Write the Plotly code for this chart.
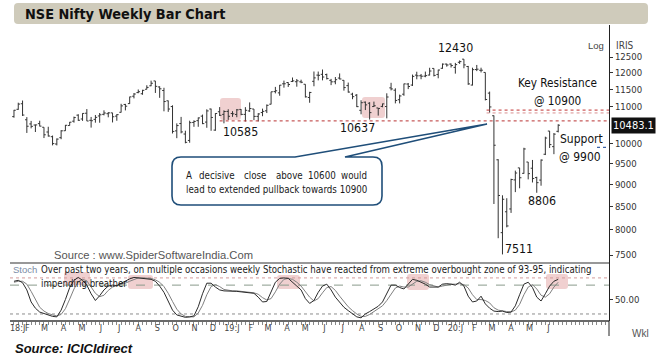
import math
import pandas as pd
import plotly.graph_objects as go

W, H = 657, 363

# ---------------- data ----------------
week_start = "2018-01-15"
opens = [10718,10922,11080,10631,10518,10488,10526,10428,10301,10177,
         9987,10151,10334,10474,10592,10758,10653,10812,10616,10642,
         10736,10781,10799,10822,10732,10838,11060,11084,11297,11404,
         11369,11502,11605,11751,11570,11465,11164,11000,10331,10528,
         10247,10079,10558,10607,10731,10568,10930,10351,10853,10780,
         10863,10804,10777,10919,10780,10876,10930,10724,10831,10880,
         11067,11433,11395,11665,11704,11736,11727,11725,11651,11260,
         11739,11929,11953,11945,11770,11726,11839,11770,11610,11357,
         11327,10894,11124,11095,11000,10960,11004,11000,11543,11474,
         11196,11356,11657,11627,11929,11910,11898,11931,12137,11950,
         12141,12274,12274,12170,12330,12430,12197,11627,12102,12078,
         12012,11387,10742,9588,7945,8385,8446,9103,9390,9259,
         9533,9382,9158,9099,9726,10326,9919,10319]
highs = [10906,11110,11172,10704,10600,10500,10605,10428,10441,10207,
         10132,10350,10490,10572,10719,10784,10812,10929,10709,10763,
         10818,10893,10843,10823,10786,11078,11076,11283,11390,11495,
         11486,11621,11760,11751,11590,11546,11171,11035,10533,10710,
         10335,10606,10616,10695,10774,10922,10941,10815,10985,10893,
         10923,10870,10931,10928,10983,11118,10930,10815,10941,11059,
         11427,11572,11630,11761,11711,11856,11810,11789,11651,11427,
         12041,12039,12103,11975,11814,11871,11981,11774,11702,11399,
         11360,11181,11145,11125,11141,10960,11084,11382,11695,11530,
         11344,11670,11690,11946,12034,11964,12038,12158,12137,12098,
         12293,12287,12293,12311,12389,12430,12216,12160,12246,12160,
         12012,11433,10751,9602,8749,8683,9131,9324,9390,9890,
         9533,9584,9178,9598,10177,10328,10273,10510]
lows = [10688,10908,10736,10276,10398,10301,10450,10141,10180,9952,
        9951,10111,10330,10474,10553,10601,10601,10595,10418,10551,
        10550,10753,10699,10558,10604,10832,10891,11076,11234,11385,
        11340,11499,11593,11393,11250,10866,10850,10262,10138,10265,
        10005,10020,10440,10440,10512,10414,10333,10333,10735,10534,
        10628,10711,10701,10756,10583,10848,10620,10585,10729,10817,
        11061,11380,11311,11549,11570,11718,11578,11683,11259,11108,
        11591,11768,11769,11797,11625,11651,11798,11461,11400,11210,
        10985,10783,10901,10637,10987,10746,10980,10670,11468,11090,
        11090,11310,11506,11600,11802,11803,11864,11919,11888,11832,
        12126,12192,12165,11975,12279,12142,11633,11614,12053,12012,
        11175,10827,8555,7832,7511,8055,8360,8821,8909,9250,
        9116,9043,8806,8968,9706,9885,9728,10290]
closes = [10895,11070,10761,10455,10452,10491,10458,10227,10195,9998,
          10114,10332,10481,10565,10692,10618,10807,10597,10605,10697,
          10768,10818,10822,10714,10772,11019,11010,11278,11361,11429,
          11470,11557,11681,11589,11515,11143,10930,10316,10473,10303,
          10030,10553,10585,10682,10526,10877,10694,10805,10754,10860,
          10727,10795,10907,10780,10894,10944,10724,10792,10864,11035,
          11427,11457,11624,11666,11643,11753,11755,11712,11279,11407,
          11844,11923,11871,11823,11724,11789,11811,11552,11419,11284,
          10997,11110,11048,10829,11023,10946,11076,11274,11512,11174,
          11305,11662,11584,11890,11908,11895,11914,12056,11921,12087,
          12272,12245,12227,12257,12352,12248,11662,12098,12113,12081,
          11202,10989,9955,8745,8660,8084,9112,9267,9154,9860,
          9252,9137,9039,9580,10142,9972,10244,10483]
stoch_k = [88,90,85,70,45,32,24,21,18,15,
           14,28,50,75,90,96,90,80,62,48,
           58,70,78,80,79,84,88,93,96,95,
           95,94,92,88,78,65,45,28,18,15,
           13,14,16,35,62,84,84,76,70,68,
           68,68,67,66,65,65,63,55,45,46,
           66,86,94,95,94,87,78,70,52,42,
           48,65,78,82,70,55,45,34,27,20,
           14,12,20,25,30,36,45,62,80,80,
           75,72,82,92,90,86,82,76,76,76,
           82,83,82,80,86,78,57,45,47,57,
           41,32,26,25,26,23,24,37,60,82,
           86,75,55,47,62,78,88,92]
stoch_d = [86,88,88,82,67,49,34,26,21,18,
           16,19,31,51,72,87,92,89,77,63,
           56,59,69,76,79,81,84,88,92,95,
           95,95,94,91,86,77,63,46,30,20,
           15,14,14,22,38,60,77,81,77,71,
           69,68,68,67,66,65,64,61,54,49,
           52,66,82,92,94,92,86,78,67,55,
           47,52,64,75,77,69,57,45,35,27,
           20,15,15,19,25,30,37,48,62,74,
           78,76,76,82,88,89,86,81,78,76,
           78,80,82,82,83,81,74,60,50,50,
           48,43,33,28,26,25,24,28,40,60,
           76,81,72,59,55,62,76,86]
price_ticks = [7500, 8000, 8500, 9000, 9500, 10000, 11000, 11500, 12000, 12500]
month_labels = ["18:J","F","M","A","M","J","J","A","S","O","N","D",
                "19:J","F","M","A","M","J","J","A","S","O","N","D",
                "20:J","F","M","A","M","J"]
last_price = 10483.1

dates = pd.date_range(week_start, periods=len(opens), freq="7D")
month_pos = list(pd.date_range("2018-01-01", "2020-06-01", freq="MS") + pd.Timedelta(days=5))
month_pos[0] = pd.Timestamp("2018-01-21")

# ---------------- layout geometry (pixels) ----------------
PL, PR = 10, 609           # plot left/right
MT, MB = 25, 263           # main pane top/bottom
SB = 321                   # stoch pane bottom
X0, X1 = pd.Timestamp("2018-01-08 12:00"), pd.Timestamp("2020-09-13")
YLO, YHI = 3.8661, 4.13276
S_LO, S_HI = 5.4, 126

def fx(x): return x / W
def fy(y): return 1 - y / H

def price_px(p):
    return MB - (math.log10(p) - YLO) / (YHI - YLO) * (MB - MT)

def date_px(d):
    d = pd.Timestamp(d)
    return PL + (d - X0) / (X1 - X0) * (PR - PL)

NARROW = "'DejaVu Sans Condensed', 'DejaVu Sans', sans-serif"
SANS = "'Liberation Sans', Arial, sans-serif"

fig = go.Figure()
fig.add_trace(go.Ohlc(
    x=dates, open=opens, high=highs, low=lows, close=closes,
    increasing=dict(line=dict(color="#333333", width=1)),
    decreasing=dict(line=dict(color="#333333", width=1)),
    tickwidth=0.42, xaxis="x", yaxis="y", showlegend=False, hoverinfo="skip"))
fig.add_trace(go.Scatter(x=dates, y=stoch_d, mode="lines",
                         line=dict(color="#808080", width=1),
                         xaxis="x", yaxis="y2", showlegend=False, hoverinfo="skip"))
fig.add_trace(go.Scatter(x=dates, y=stoch_k, mode="lines",
                         line=dict(color="#2b2b2b", width=1),
                         xaxis="x", yaxis="y2", showlegend=False, hoverinfo="skip"))

shapes = []

def path_from(pts):
    s = ""
    for p in pts:
        coords = p[1:]
        s += p[0] + " " + " ".join(
            f"{fx(coords[i]):.5f},{fy(coords[i+1]):.5f}" for i in range(0, len(coords), 2)) + " "
    return s + "Z"

def rrect_path(x0, y0, x1, y1, r):
    return path_from([("M", x0 + r, y0), ("L", x1 - r, y0), ("Q", x1, y0, x1, y0 + r),
                      ("L", x1, y1 - r), ("Q", x1, y1, x1 - r, y1), ("L", x0 + r, y1),
                      ("Q", x0, y1, x0, y1 - r), ("L", x0, y0 + r), ("Q", x0, y0, x0 + r, y0)])

def path_shape(path, fill, line_color=None, width=0, layer="below"):
    return dict(type="path", xref="paper", yref="paper", path=path, fillcolor=fill,
                line=dict(color=line_color or "rgba(0,0,0,0)", width=width), layer=layer)

def pline(x0, y0, x1, y1, color, width=1, dash="solid", layer="above"):
    return dict(type="line", xref="paper", yref="paper", x0=fx(x0), y0=fy(y0),
                x1=fx(x1), y1=fy(y1), line=dict(color=color, width=width, dash=dash), layer=layer)

# title bar
shapes.append(path_shape(rrect_path(14, 3, 648, 24, 4), "#cfcbbb"))

# highlight boxes
pink = "rgba(222,150,150,0.45)"
for (a, b, c, d) in [(220, 98, 241, 120), (362, 97, 385, 118),
                     (64, 272, 90, 285), (128, 275, 153, 289), (277, 275, 300, 289),
                     (407, 274, 429, 290), (546, 274, 568, 289)]:
    shapes.append(path_shape(rrect_path(a, b, c, d, 3), pink))

# level lines on price pane
y10600 = price_px(10600)
shapes.append(pline(date_px("2018-12-17"), y10600, PR, y10600, "#b83232", 1, "dot"))
y10900 = price_px(10900)
y10820 = price_px(10820)
shapes.append(pline(date_px("2020-02-26"), y10900, PR, y10900, "#c03030", 1, "dot"))
shapes.append(pline(date_px("2020-02-26"), y10820, PR, y10820, "#d89090", 1, "dot"))
y9900 = price_px(9900)
shapes.append(pline(597, y9900, PR, y9900, "#3a62a8", 1.2, "dot"))

# stoch pane reference lines
for lvl, col, dash in [(95, "#d49a9a", "dot"), (80, "#8a9a8c", "dash"), (20, "#8c8c8c", "dot")]:
    shapes.append(dict(type="line", xref="paper", yref="y2", x0=fx(PL), x1=fx(PR),
                       y0=lvl, y1=lvl, line=dict(color=col, width=1, dash=dash), layer="below"))

# pane borders
shapes.append(pline(PL, MB, PR, MB, "#333333", 1.2))
shapes.append(pline(PL, SB, PR, SB, "#6a6a6a", 2))
shapes.append(pline(PR, SB, PR, 336, "#222222", 1))

# callout box with pointer
r = 9
bx0, by0, bx1, by1 = 172, 157, 382, 205
tip = (487, 124)
cp = path_from([("M", bx0 + r, by0), ("L", 295, by0), ("L", tip[0], tip[1]), ("L", 345, by0),
                ("L", bx1 - r, by0), ("Q", bx1, by0, bx1, by0 + r), ("L", bx1, by1 - r),
                ("Q", bx1, by1, bx1 - r, by1), ("L", bx0 + r, by1), ("Q", bx0, by1, bx0, by1 - r),
                ("L", bx0, by0 + r), ("Q", bx0, by0, bx0 + r, by0)])
shapes.append(path_shape(cp, "white", "#1f4e79", 1.6, layer="above"))

# ---------------- text ----------------
ann = []

def txt(x, y, s, size, color="#111111", family=NARROW, anchor="left", **kw):
    ann.append(dict(x=fx(x), y=fy(y), xref="paper", yref="paper", text=s, showarrow=False,
                    xanchor=anchor, yanchor="middle", font=dict(size=size, color=color, family=family),
                    borderpad=0, **kw))

txt(24, 14, "<b>NSE Nifty Weekly Bar Chart</b>", 14.4)
txt(596, 45, "Log", 9.5, "#444444", SANS, "center")
txt(625, 45, "IRIS", 10, "#444444", NARROW, "center")
txt(455, 47.5, "12430", 12.3, anchor="center")
txt(557, 83, "Key Resistance", 11.7, anchor="center")
txt(557.5, 100.5, "@ 10900", 11.7, anchor="center")
txt(240, 132, "10585", 12.3, anchor="center")
txt(357.5, 128, "10637", 12.3, anchor="center")
txt(541.5, 201, "8806", 12.3, anchor="center")
txt(518.5, 248.5, "7511", 12.3, anchor="center")
txt(559, 138.5, "Support", 12)
txt(558, 157, "@ 9900", 12)

for word, wx in [("A", 185), ("decisive", 198), ("close", 243), ("above", 275),
                 ("10600", 307), ("would", 340)]:
    txt(wx, 175, word, 9.7, "#1a1a1a")
txt(185, 190, "lead to extended pullback towards 10900", 9.7, "#1a1a1a")

txt(53, 255, "Source : www.SpiderSoftwareIndia.Com", 11.2, "#555555", SANS)
txt(12, 269, "Stoch", 9.5, "#7c8ca6", SANS)
txt(40, 269, "Over past two years, on multiple occasions weekly Stochastic have reacted from extreme overbought zone of 93-95, indicating", 9.6, "#1a1a1a")
txt(40, 283, "impending breather", 9.6, "#1a1a1a")
txt(640, 333, "Wkl", 10, "#555555", SANS, "center")
txt(14, 348, "<b><i>Source: ICICIdirect</i></b>", 13, "#111111", SANS)

ann.append(dict(x=fx(611), y=fy(price_px(last_price)), xref="paper", yref="paper",
                text=f"{last_price:.1f}", showarrow=False, xanchor="left", yanchor="middle",
                bgcolor="#111111", borderpad=1,
                font=dict(size=11, color="white", family=NARROW)))

fig.update_layout(
    width=W, height=H, autosize=False,
    margin=dict(l=0, r=0, t=0, b=0),
    paper_bgcolor="white", plot_bgcolor="white",
    showlegend=False,
    xaxis=dict(domain=[fx(PL), fx(PR)], anchor="y2", type="date",
               range=[X0, X1], rangeslider=dict(visible=False),
               tickvals=month_pos, ticktext=month_labels, ticks="", tickangle=0,
               tickfont=dict(size=9, color="#444444", family=NARROW),
               showgrid=False, zeroline=False, showline=False,
               minor=dict(ticks="outside", ticklen=3, tickcolor="#888888",
                          dtick=7 * 86400000, tick0=week_start, showgrid=False)),
    yaxis=dict(domain=[fy(MB), fy(MT)], type="log", range=[YLO, YHI], side="right",
               anchor="x", tickvals=price_ticks, ticktext=[str(v) for v in price_ticks],
               ticks="outside", ticklen=3, tickcolor="#333333",
               tickfont=dict(size=9.5, color="#333333", family=NARROW),
               showline=True, linecolor="#222222", linewidth=1,
               showgrid=False, zeroline=False),
    yaxis2=dict(domain=[fy(SB), fy(MB)], range=[S_LO, S_HI], side="right",
                anchor="x", tickvals=[50], ticktext=["50.00"],
                ticks="outside", ticklen=3, tickcolor="#333333",
                tickfont=dict(size=9.5, color="#333333", family=NARROW),
                showline=True, linecolor="#222222", linewidth=1,
                showgrid=False, zeroline=False),
    shapes=shapes, annotations=ann,
)

fig.write_html("out.html", config={"displayModeBar": False},
               post_script="document.body.style.margin='0px';document.body.style.padding='0px';")
